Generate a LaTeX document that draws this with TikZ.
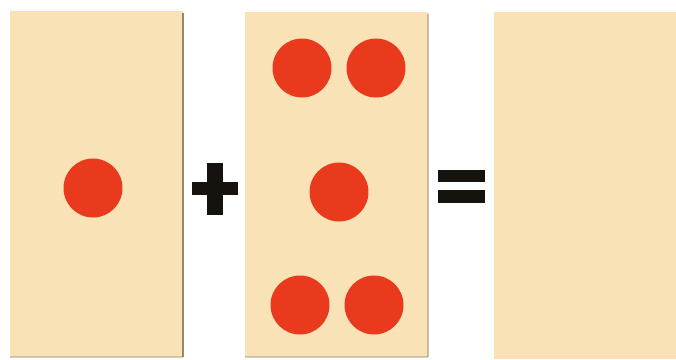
\documentclass[tikz,border=0pt]{standalone}
\usepackage{xcolor}
\usepackage{tikz}

\definecolor{cardtan}{RGB}{248,226,182}
\definecolor{cardedge}{RGB}{150,135,105}
\definecolor{dotred}{RGB}{234,58,30}
\definecolor{signblack}{RGB}{22,18,14}

\begin{document}
\begin{tikzpicture}[
      x=0.02cm, y=-0.02cm,
      card/.style={fill=cardtan},
      cardshade/.style={draw=cardedge, line width=0.8pt},
      dot/.style={circle, fill=dotred, minimum size=1.18cm, inner sep=0pt},
      signbar/.style={fill=signblack, rounded corners=0.6pt}
    ]
    \useasboundingbox[fill=white] (0,0) rectangle (676,359);

    % the three cards
    \fill[card] (10,11) rectangle (183,357);
    \fill[card] (245,12) rectangle (428,357);
    \fill[card] (494,12) rectangle (676,359);
    \draw[cardshade] (183,13) -- (183,357);
    \draw[cardshade, draw opacity=0.5] (428,14) -- (428,357);
    \draw[cardshade, draw opacity=0.4] (10,357) -- (183,357);
    \draw[cardshade, draw opacity=0.4] (245,357) -- (428,357);

    % dots
    \node[dot] (oneA) at (93,188) {};
    \node[dot] (fiveA) at (302,68) {};
    \node[dot] (fiveB) at (376,68) {};
    \node[dot] (fiveC) at (339,192) {};
    \node[dot] (fiveD) at (300,305) {};
    \node[dot] (fiveE) at (374,305) {};

    % plus and equals
    \fill[signblack] (207,163) rectangle (223,215);
    \fill[signblack] (192,182) rectangle (238,195);
    \fill[signblack] (438,170) rectangle (485,182);
    \fill[signblack] (438,190) rectangle (485,203);
  \end{tikzpicture}
\end{document}
